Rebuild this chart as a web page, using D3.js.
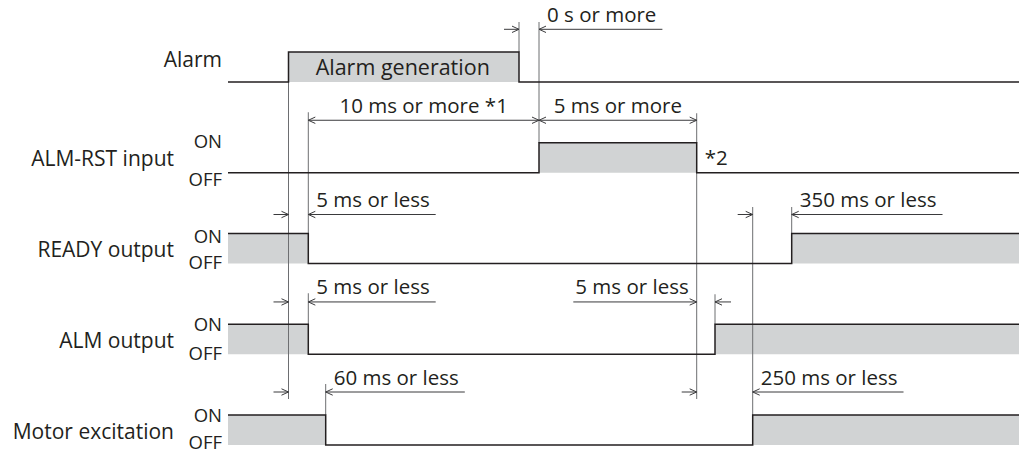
<!DOCTYPE html>
<html><head><meta charset="utf-8">
<script src="https://cdn.jsdelivr.net/npm/d3@7"></script>
<style>
html,body{margin:0;padding:0;background:#fff;}
svg text{font-family:"Open Sans",sans-serif;fill:#231f20;}
</style></head>
<body><svg id="c" width="1019" height="452"></svg>
<script>
// ---- data ----
const signals = ["Alarm", "ALM-RST input", "READY output", "ALM output", "Motor excitation"];
const hasOnOff = [false, true, true, true, true];
// step changes [time, level] (timeline units)
const alarmSteps = [[0,0],[60.5,1],[291,0],[791,0]];
const rstSteps   = [[0,0],[311,1],[468.7,0],[791,0]];
const readySteps = [[0,1],[80.3,0],[563.7,1],[791,1]];
const almSteps   = [[0,1],[80.3,0],[487,1],[791,1]];
const motorSteps = [[0,1],[97.7,0],[524.7,1],[791,1]];
const allSteps = [alarmSteps, rstSteps, readySteps, almSteps, motorSteps];
const pulseText = "Alarm generation";
// dimension annotations: from time, to time, row, label, kind
const dimFrom  = [291, 80.3, 311, 60.5, 524.7, 60.5, 468.7, 60.5, 468.7];
const dimTo    = [311, 311, 468.7, 80.3, 563.7, 80.3, 487, 97.7, 524.7];
const dimRow   = [0, 1, 1, 2, 2, 3, 3, 4, 4];
const dimLabel = ["0 s or more", "10 ms or more *1", "5 ms or more", "5 ms or less", "350 ms or less",
                  "5 ms or less", "5 ms or less", "60 ms or less", "250 ms or less"];
const dimKind  = ["out", "in", "in", "out", "out", "out", "outL", "out", "out"];
const note2 = "*2";

// ---- layout ----
const svg = d3.select("#c");
const x = d3.scaleLinear().domain([0, 791]).range([228, 1019]);
const yHigh = d3.scalePoint().domain(d3.range(signals.length)).range([52, 415]);
const H = 30;
const dimOff = [-22.7, -22.5, -19, -22.3, -23];
const ink = "#231f20", grey = "#d1d3d4", guide = "#6d6e71";

// grey fills
allSteps.forEach((st, i) => {
  const hi = yHigh(i), lo = hi + H;
  const area = d3.area().curve(d3.curveStepAfter).x(d => x(d[0])).y0(lo).y1(d => d[1] ? hi : lo);
  svg.append("path").attr("d", area(st)).attr("fill", grey);
});

// guide (extension) lines
const gl = svg.append("g").attr("stroke", guide).attr("stroke-width", 1).attr("fill", "none");
function vline(t, y1, y2){ gl.append("line").attr("x1", x(t)).attr("x2", x(t)).attr("y1", y1).attr("y2", y2); }
const rowHi = i => yHigh(i), rowLo = i => yHigh(i) + H;
vline(60.5, rowLo(0), rowHi(4) - 16);
vline(80.3, rowHi(1) - 30.5, rowHi(2));
vline(80.3, rowHi(3) - 31, rowHi(3));
vline(291, rowHi(0) - 30, rowHi(0));
vline(311, rowHi(0) - 30, rowHi(1));
vline(468.7, rowHi(1) - 29.5, rowHi(1));
vline(468.7, rowLo(1), rowHi(4) - 16);
vline(487, rowHi(3) - 30, rowHi(3));
vline(524.7, rowHi(2) - 26.5, rowHi(4));
vline(563.7, rowHi(2) - 26.5, rowHi(2));
vline(97.7, rowHi(4) - 31, rowHi(4));

// waveforms
allSteps.forEach((st, i) => {
  const hi = yHigh(i), lo = hi + H;
  const line = d3.line().curve(d3.curveStepAfter).x(d => x(d[0])).y(d => d[1] ? hi : lo);
  svg.append("path").attr("d", line(st)).attr("fill", "none").attr("stroke", ink).attr("stroke-width", 1.5);
});

// pulse text
svg.append("text").attr("x", (x(alarmSteps[1][0]) + x(alarmSteps[2][0])) / 2 - 1).attr("y", yHigh(0) + 23)
  .attr("text-anchor", "middle").attr("font-size", 21.5).text(pulseText);
svg.append("text").attr("x", x(468.7) + 8).attr("y", yHigh(1) + 22.5).attr("font-size", 20.5).text(note2);

// labels
signals.forEach((s, i) => {
  const hi = yHigh(i), lo = hi + H;
  if (!hasOnOff[i]) {
    svg.append("text").attr("x", 222).attr("y", lo - 15).attr("text-anchor", "end").attr("font-size", 21).text(s);
    return;
  }
  svg.append("text").attr("x", 174).attr("y", hi + H / 2 + 8.5).attr("text-anchor", "end").attr("font-size", 21).text(s);
  const onY = i === 1 ? hi + 5.5 : (i === 2 ? hi + 9.5 : hi + 7);
  const offY = i === 1 ? lo + 13 : (i === 2 ? lo + 5 : (i === 4 ? lo + 3.5 : lo + 6));
  svg.append("text").attr("x", 222).attr("y", onY).attr("text-anchor", "end").attr("font-size", 18.5).text("ON");
  svg.append("text").attr("x", 222).attr("y", offY).attr("text-anchor", "end").attr("font-size", 18.5).text("OFF");
});

// dimension arrows
const dg = svg.append("g").attr("stroke", "#3a3a3c").attr("stroke-width", 1).attr("fill", "none");
function head(px, py, dir){ // dir=+1 points right, -1 points left
  dg.append("path").attr("d", `M${px - dir*7},${py - 3.2}L${px},${py}L${px - dir*7},${py + 3.2}`);
}
dimLabel.forEach((lab, k) => {
  const x1 = x(dimFrom[k]), x2 = x(dimTo[k]);
  const y = yHigh(dimRow[k]) + dimOff[dimRow[k]];
  const t = svg.append("text").attr("font-size", 20.5).attr("y", y - 7.5).text(lab);
  const w = t.node().getComputedTextLength();
  if (dimKind[k] === "in") {
    dg.append("line").attr("x1", x1).attr("x2", x2).attr("y1", y).attr("y2", y);
    head(x1, y, -1); head(x2, y, 1);
    t.attr("x", (x1 + x2) / 2 - w / 2);
  } else if (dimKind[k] === "out") {
    const tx = x2 + 8;
    dg.append("line").attr("x1", x1 - 15).attr("x2", x1).attr("y1", y).attr("y2", y);
    dg.append("line").attr("x1", x2).attr("x2", tx + w + 6).attr("y1", y).attr("y2", y);
    head(x1, y, 1); head(x2, y, -1);
    t.attr("x", tx);
  } else { // label on the left side
    const tx = x1 - 8 - w;
    dg.append("line").attr("x1", tx - 2).attr("x2", x1).attr("y1", y).attr("y2", y);
    dg.append("line").attr("x1", x2).attr("x2", x2 + 16).attr("y1", y).attr("y2", y);
    head(x1, y, 1); head(x2, y, -1);
    t.attr("x", tx);
  }
});
</script></body></html>
